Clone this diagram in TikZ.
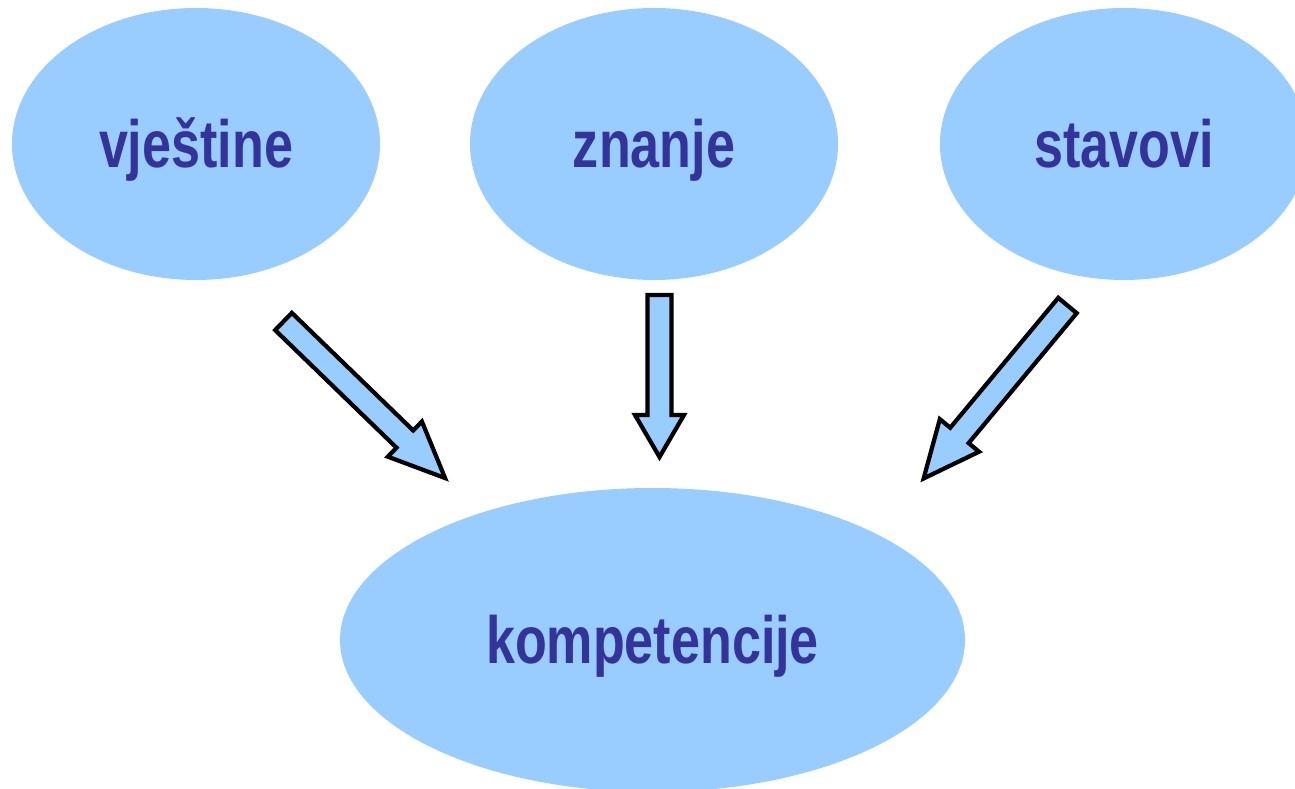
\documentclass[tikz,border=0pt]{standalone}
\usepackage{fontspec}
\setmainfont{Liberation Sans}
\newfontfamily\blobfont[FakeStretch=0.78]{Liberation Sans}
\usepackage[HTML]{xcolor}
\usepackage{tikz}
\usetikzlibrary{positioning, shapes.geometric}

\definecolor{blobfill}{HTML}{99CCFF}
\definecolor{blobtext}{HTML}{333399}

\tikzset{
  blob/.style={ellipse, fill=blobfill, text=blobtext, inner sep=0pt,
    text height=0.62cm, text depth=0.14cm,
    font=\blobfont\fontsize{19pt}{22pt}\selectfont\bfseries},
  blockarrow/.style={draw=black, fill=blobfill, line width=1.2pt, line join=miter}
}

\begin{document}
\begin{tikzpicture}
\useasboundingbox (0,0) rectangle (12.95,-7.89);
\node[blob, minimum width=3.68cm, minimum height=2.72cm] (vjestine) at (1.96,-1.44) {vještine};
\node[blob, minimum width=3.68cm, minimum height=2.72cm] (znanje) at (6.54,-1.44) {znanje};
\node[blob, minimum width=3.68cm, minimum height=2.72cm] (stavovi) at (11.24,-1.44) {stavovi};
\node[blob, minimum width=6.25cm, minimum height=3.04cm] (kompetencije) at (6.525,-6.40) {kompetencije};
% block arrows: tail x/y, angle, length, head length, head half width
\foreach \tx/\ty/\ang/\len/\hl/\hw in {2.835/-3.215/-44.1/2.25/0.56/0.245, 6.595/-2.95/-90/1.62/0.42/0.245, 10.675/-3.055/-129.75/2.25/0.56/0.255}
  \draw[blockarrow, shift={(\tx,\ty)}, rotate=\ang] (0,-0.12) -- (\len-\hl,-0.12) -- (\len-\hl,-\hw) -- (\len,0) -- (\len-\hl,\hw) -- (\len-\hl,0.12) -- (0,0.12) -- cycle;
\end{tikzpicture}
\end{document}
